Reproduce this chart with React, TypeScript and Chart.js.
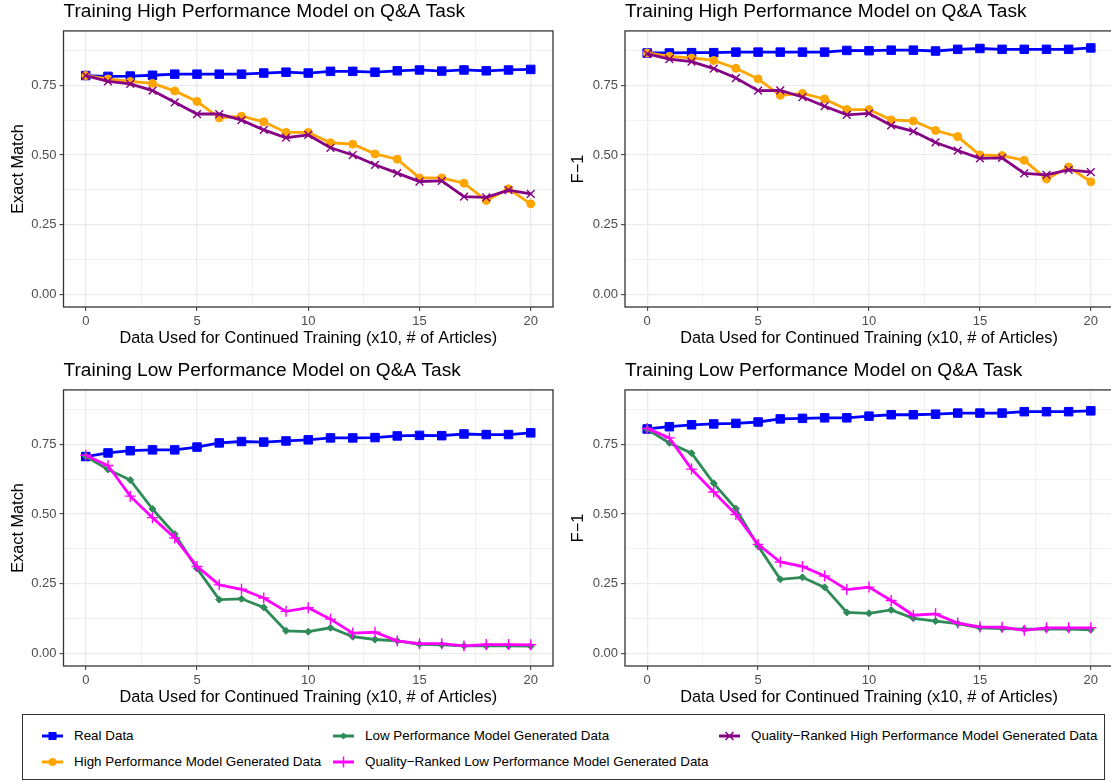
import React, { useEffect, useRef } from "react";
import { Chart, registerables } from "chart.js";

Chart.register(...registerables);
Chart.defaults.font.family = '"Liberation Sans", Arial, sans-serif';

// ---------------- data ----------------
const X = [0, 1, 2, 3, 4, 5, 6, 7, 8, 9, 10, 11, 12, 13, 14, 15, 16, 17, 18, 19, 20];
const X_MAJOR = [0, 5, 10, 15, 20];
const X_MINOR = [2.5, 7.5, 12.5, 17.5];
const Y_MAJOR = [0, 0.25, 0.5, 0.75];
const Y_MINOR = [0.125, 0.375, 0.625, 0.875];
const Y_LABELS = ["0.00", "0.25", "0.50", "0.75"];

const TITLE_HIGH = "Training High Performance Model on Q&A Task";
const TITLE_LOW = "Training Low Performance Model on Q&A Task";
const X_TITLE = "Data Used for Continued Training (x10, # of Articles)";
const Y_TITLE_EM = "Exact Match";
const Y_TITLE_F1 = "F\u22121";

const NAME_REAL = "Real Data";
const NAME_HIGH = "High Performance Model Generated Data";
const NAME_LOW = "Low Performance Model Generated Data";
const NAME_QR_LOW = "Quality\u2212Ranked Low Performance Model Generated Data";
const NAME_QR_HIGH = "Quality\u2212Ranked High Performance Model Generated Data";

// Panel 1: high model, exact match
const HIGH_EM_REAL = [0.785, 0.782, 0.783, 0.786, 0.79, 0.79, 0.79, 0.79, 0.794, 0.797, 0.794, 0.8, 0.8, 0.797, 0.802, 0.805, 0.801, 0.805, 0.802, 0.805, 0.807];
const HIGH_EM_GEN = [0.785, 0.773, 0.764, 0.757, 0.73, 0.692, 0.633, 0.639, 0.619, 0.581, 0.581, 0.544, 0.539, 0.504, 0.485, 0.418, 0.418, 0.399, 0.337, 0.379, 0.325];
const HIGH_EM_QR = [0.785, 0.764, 0.755, 0.731, 0.689, 0.647, 0.647, 0.625, 0.59, 0.562, 0.572, 0.526, 0.5, 0.465, 0.435, 0.405, 0.407, 0.351, 0.348, 0.374, 0.361];

// Panel 2: high model, F-1
const HIGH_F1_REAL = [0.866, 0.866, 0.867, 0.867, 0.869, 0.869, 0.869, 0.869, 0.869, 0.875, 0.874, 0.876, 0.876, 0.873, 0.879, 0.882, 0.879, 0.879, 0.879, 0.879, 0.884];
const HIGH_F1_GEN = [0.866, 0.854, 0.848, 0.839, 0.811, 0.773, 0.714, 0.721, 0.701, 0.663, 0.663, 0.626, 0.622, 0.588, 0.566, 0.5, 0.498, 0.481, 0.414, 0.457, 0.404];
const HIGH_F1_QR = [0.863, 0.844, 0.835, 0.81, 0.776, 0.731, 0.732, 0.708, 0.675, 0.644, 0.649, 0.606, 0.585, 0.545, 0.516, 0.488, 0.49, 0.434, 0.429, 0.447, 0.439];

// Panel 3: low model, exact match
const LOW_EM_REAL = [0.706, 0.719, 0.727, 0.73, 0.73, 0.74, 0.755, 0.76, 0.758, 0.762, 0.766, 0.773, 0.773, 0.774, 0.78, 0.782, 0.781, 0.787, 0.785, 0.785, 0.791];
const LOW_EM_GEN = [0.707, 0.66, 0.622, 0.518, 0.428, 0.305, 0.193, 0.196, 0.165, 0.081, 0.078, 0.092, 0.06, 0.05, 0.045, 0.033, 0.031, 0.027, 0.027, 0.027, 0.026];
const LOW_EM_QR = [0.711, 0.674, 0.564, 0.487, 0.414, 0.312, 0.246, 0.23, 0.199, 0.151, 0.164, 0.123, 0.073, 0.076, 0.045, 0.035, 0.035, 0.027, 0.032, 0.032, 0.031];

// Panel 4: low model, F-1
const LOW_F1_REAL = [0.805, 0.813, 0.82, 0.823, 0.825, 0.83, 0.841, 0.843, 0.845, 0.845, 0.851, 0.856, 0.856, 0.858, 0.862, 0.862, 0.862, 0.867, 0.867, 0.867, 0.87];
const LOW_F1_GEN = [0.804, 0.755, 0.718, 0.61, 0.519, 0.385, 0.266, 0.273, 0.237, 0.147, 0.144, 0.156, 0.126, 0.116, 0.107, 0.092, 0.089, 0.087, 0.087, 0.087, 0.085];
const LOW_F1_QR = [0.807, 0.773, 0.661, 0.579, 0.498, 0.391, 0.328, 0.312, 0.278, 0.229, 0.238, 0.19, 0.137, 0.142, 0.109, 0.095, 0.094, 0.083, 0.092, 0.092, 0.092];

// ---------------- styles ----------------
const FONT = '"Liberation Sans", Arial, sans-serif';
const STYLE: Record<string, any> = {
  [NAME_REAL]: { color: "#0000FF", pointStyle: "rect", radius: 6, pbw: 1, order: 3 },
  [NAME_HIGH]: { color: "#FFA500", pointStyle: "circle", radius: 4, pbw: 1, order: 2 },
  [NAME_QR_HIGH]: { color: "#850085", pointStyle: "crossRot", radius: 5.5, pbw: 1.4, order: 1 },
  [NAME_LOW]: { color: "#2E8B57", pointStyle: "rectRot", radius: 3.5, pbw: 1, order: 2 },
  [NAME_QR_LOW]: { color: "#FF00FF", pointStyle: "cross", radius: 5.5, pbw: 1.4, order: 1 },
};

const CANVAS_W = 560;
const CANVAS_H = 350;

const panelBorder = {
  id: "panelBorder",
  afterDatasetsDraw(chart: any) {
    const { ctx, chartArea: a } = chart;
    ctx.save();
    ctx.strokeStyle = "#333333";
    ctx.lineWidth = 1.3;
    ctx.strokeRect(a.left, a.top, a.right - a.left, a.bottom - a.top);
    ctx.restore();
  },
};

type Series = { name: string; values: number[] };

function Panel(props: { left: number; top: number; title: string; yTitle: string; yWidth: number; rightPad: number; series: Series[] }) {
  const ref = useRef<HTMLCanvasElement | null>(null);
  useEffect(() => {
    const isMajorX = (v: number) => X_MAJOR.includes(v);
    const isMajorY = (v: number) => Y_MAJOR.includes(v);
    const chart = new Chart(ref.current as HTMLCanvasElement, {
      type: "line",
      data: {
        datasets: props.series.map((s) => {
          const st = STYLE[s.name];
          return {
            label: s.name,
            data: X.map((x, i) => ({ x, y: s.values[i] })),
            borderColor: st.color,
            backgroundColor: st.color,
            borderWidth: 2.8,
            pointStyle: st.pointStyle,
            pointRadius: st.radius,
            pointBorderWidth: st.pbw,
            pointBorderColor: st.color,
            pointBackgroundColor: st.color,
            tension: 0,
            order: st.order,
          };
        }),
      },
      options: {
        animation: false,
        responsive: false,
        devicePixelRatio: 1,
        layout: { padding: { left: 0, right: props.rightPad, top: 0, bottom: 0 } },
        plugins: {
          legend: { display: false },
          tooltip: { enabled: false },
          title: {
            display: true,
            text: props.title,
            align: "start",
            fullSize: false,
            color: "#000000",
            font: { size: 19.1, weight: "normal", family: FONT, lineHeight: 1.2 },
            padding: { top: 0, bottom: 8 },
          },
        },
        scales: {
          x: {
            type: "linear",
            min: -1,
            max: 21,
            afterBuildTicks: (s: any) => {
              s.ticks = [...X_MAJOR, ...X_MINOR].sort((a, b) => a - b).map((v) => ({ value: v }));
            },
            afterFit: (s: any) => {
              s.height = 43;
            },
            ticks: {
              autoSkip: false,
              maxRotation: 0,
              color: "#4D4D4D",
              font: { size: 13, family: FONT },
              padding: 2.5,
              callback: (v: any) => (isMajorX(Number(v)) ? String(v) : ""),
            },
            grid: {
              color: "#EBEBEB",
              lineWidth: (c: any) => (c.tick && isMajorX(c.tick.value) ? 1.3 : 0.7),
              tickColor: (c: any) => (c.tick && isMajorX(c.tick.value) ? "#333333" : "rgba(0,0,0,0)"),
              tickLength: 4,
              tickWidth: 1,
            },
            border: { display: false },
            title: {
              display: true,
              text: X_TITLE,
              color: "#000000",
              font: { size: 16.3, family: FONT, lineHeight: 1.2 },
              padding: { top: 0, bottom: 2 },
            },
          },
          y: {
            type: "linear",
            min: -0.045,
            max: 0.945,
            afterBuildTicks: (s: any) => {
              s.ticks = [...Y_MAJOR, ...Y_MINOR].sort((a, b) => a - b).map((v) => ({ value: v }));
            },
            afterFit: (s: any) => {
              s.width = props.yWidth;
            },
            ticks: {
              autoSkip: false,
              color: "#4D4D4D",
              font: { size: 13, family: FONT },
              padding: 3,
              callback: (v: any) => {
                const idx = Y_MAJOR.indexOf(Number(v));
                return idx >= 0 ? Y_LABELS[idx] : "";
              },
            },
            grid: {
              color: "#EBEBEB",
              lineWidth: (c: any) => (c.tick && isMajorY(c.tick.value) ? 1.3 : 0.7),
              tickColor: (c: any) => (c.tick && isMajorY(c.tick.value) ? "#333333" : "rgba(0,0,0,0)"),
              tickLength: 4,
              tickWidth: 1,
            },
            border: { display: false },
            title: {
              display: true,
              text: props.yTitle,
              color: "#000000",
              font: { size: 16.3, family: FONT, lineHeight: 1.2 },
              padding: { top: 8.5, bottom: 0 },
            },
          },
        },
      } as any,
      plugins: [panelBorder],
    });
    return () => chart.destroy();
  }, []);
  return (
    <canvas
      ref={ref}
      width={CANVAS_W}
      height={CANVAS_H}
      style={{ position: "absolute", left: props.left, top: props.top, width: CANVAS_W, height: CANVAS_H, display: "block" }}
    />
  );
}

function LegendKey({ name }: { name: string }) {
  const st = STYLE[name];
  const c = st.color;
  let marker: any = null;
  if (st.pointStyle === "rect") marker = <rect x={6.5} y={2} width={8} height={8} fill={c} />;
  else if (st.pointStyle === "circle") marker = <circle cx={10.5} cy={6} r={4} fill={c} />;
  else if (st.pointStyle === "rectRot") marker = <polygon points="10.5,2.5 14,6 10.5,9.5 7,6" fill={c} />;
  else if (st.pointStyle === "cross")
    marker = <path d="M10.5 0.5 V11.5 M5 6 H16" stroke={c} strokeWidth={1.5} />;
  else if (st.pointStyle === "crossRot")
    marker = <path d="M6.5 2 L14.5 10 M14.5 2 L6.5 10" stroke={c} strokeWidth={1.5} />;
  return (
    <svg width={21} height={12} style={{ position: "absolute", left: 0, top: -6 }}>
      <line x1={0} y1={6} x2={21} y2={6} stroke={c} strokeWidth={3} />
      {marker}
    </svg>
  );
}

const LEGEND_ITEMS = [
  { name: NAME_REAL, x: 19, row: 0 },
  { name: NAME_LOW, x: 310, row: 0 },
  { name: NAME_QR_HIGH, x: 696, row: 0 },
  { name: NAME_HIGH, x: 19, row: 1 },
  { name: NAME_QR_LOW, x: 310, row: 1 },
];
const LEGEND_ROW_Y = [21, 46.5];

function Legend() {
  return (
    <div
      style={{
        position: "absolute",
        left: 22,
        top: 714,
        width: 1083,
        height: 66,
        border: "1.2px solid #333333",
        boxSizing: "border-box",
        fontFamily: FONT,
        fontSize: 13.4,
        color: "#000000",
      }}
    >
      {LEGEND_ITEMS.map((it) => (
        <div key={it.name} style={{ position: "absolute", left: it.x, top: LEGEND_ROW_Y[it.row], height: 0 }}>
          <LegendKey name={it.name} />
          <div style={{ position: "absolute", left: 32, top: 0, transform: "translateY(-50%)", whiteSpace: "nowrap", lineHeight: "16px" }}>
            {it.name}
          </div>
        </div>
      ))}
    </div>
  );
}

export default function App() {
  return (
    <div style={{ position: "absolute", left: 0, top: 0, width: 1111, height: 782, overflow: "hidden", background: "#ffffff" }}>
      <Panel left={0} top={0} title={TITLE_HIGH} yTitle={Y_TITLE_EM} yWidth={63.5} rightPad={4.3}
        series={[{ name: NAME_REAL, values: HIGH_EM_REAL }, { name: NAME_HIGH, values: HIGH_EM_GEN }, { name: NAME_QR_HIGH, values: HIGH_EM_QR }]} />
      <Panel left={560} top={0} title={TITLE_HIGH} yTitle={Y_TITLE_F1} yWidth={65} rightPad={3}
        series={[{ name: NAME_REAL, values: HIGH_F1_REAL }, { name: NAME_HIGH, values: HIGH_F1_GEN }, { name: NAME_QR_HIGH, values: HIGH_F1_QR }]} />
      <Panel left={0} top={359} title={TITLE_LOW} yTitle={Y_TITLE_EM} yWidth={63.5} rightPad={4.3}
        series={[{ name: NAME_REAL, values: LOW_EM_REAL }, { name: NAME_LOW, values: LOW_EM_GEN }, { name: NAME_QR_LOW, values: LOW_EM_QR }]} />
      <Panel left={560} top={359} title={TITLE_LOW} yTitle={Y_TITLE_F1} yWidth={65} rightPad={3}
        series={[{ name: NAME_REAL, values: LOW_F1_REAL }, { name: NAME_LOW, values: LOW_F1_GEN }, { name: NAME_QR_LOW, values: LOW_F1_QR }]} />
      <Legend />
    </div>
  );
}
